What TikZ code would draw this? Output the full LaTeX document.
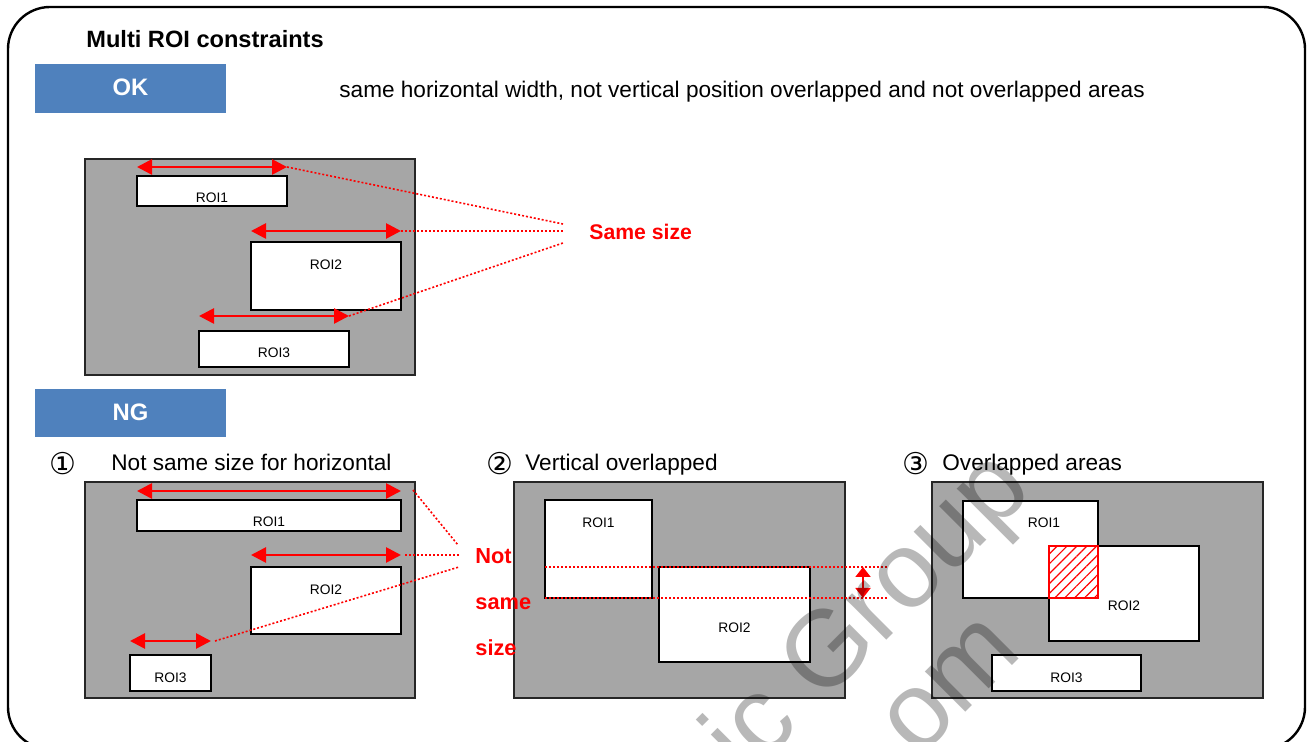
\documentclass[tikz,border=0pt]{standalone}
\usepackage{fontspec}
\setmainfont{Liberation Sans}
\newfontfamily\symfont{DejaVu Sans}
\usetikzlibrary{arrows.meta,patterns.meta}

\definecolor{panelgray}{HTML}{A6A6A6}
\definecolor{tagblue}{HTML}{4F81BD}

\begin{document}
\begin{tikzpicture}[x=0.5pt,y=-0.5pt,
  panel/.style={fill=panelgray,draw=black!85,line width=1pt},
  roibox/.style={fill=white,draw=black,line width=1pt},
  roilbl/.style={inner sep=0pt,font=\fontsize{6.9}{8}\selectfont},
  dimarr/.style={red,line width=1.35pt,
    {Triangle[length=7.5pt,width=7.5pt]}-{Triangle[length=7.5pt,width=7.5pt]}},
  smallarr/.style={red,line width=1pt,
    {Triangle[length=5pt,width=7.5pt]}-{Triangle[length=5pt,width=7.5pt]}},
  guide/.style={red,line width=0.8pt,dash pattern=on 1pt off 1pt},
  tag/.style={fill=tagblue,draw=none},
  tagtxt/.style={text=white,inner sep=0pt,anchor=base,
    font=\fontsize{11.9}{14}\selectfont\bfseries},
  body/.style={inner sep=0pt,anchor=base west,font=\fontsize{11.3}{13}\selectfont},
  note/.style={inner sep=0pt,anchor=base west,text=red,
    font=\fontsize{10.9}{13}\selectfont\bfseries},
  circnum/.style={inner sep=0pt,font=\symfont\fontsize{15}{17}\selectfont},
  stamp/.style={inner sep=0pt,anchor=base west,rotate=45,text=black,
    text opacity=0.28,font=\fontsize{54}{60}\selectfont},
]

\useasboundingbox (0,0) rectangle (1307,742);
\clip (0,0) rectangle (1307,742);

% outer frame
\draw[line width=1.2pt,rounded corners=21pt] (8,7) rectangle (1305,749);

% heading and OK tag
\node[body,font=\fontsize{11.8}{14}\selectfont\bfseries] (title) at (86,48) {Multi ROI constraints};
\fill[tag] (35,64) rectangle (226,113);
\node[tagtxt] (ok) at (130.5,96) {OK};
\node[body] (okdesc) at (339,98) {same horizontal width, not vertical position overlapped and not overlapped areas};

% ---- OK example ----
\draw[panel] (85,159) rectangle (415,375);
\draw[roibox] (137,176) rectangle (287,206);
\node[roilbl] (okr1) at (212,198) {ROI1};
\draw[roibox] (251,242) rectangle (401,310);
\node[roilbl] (okr2) at (326,265) {ROI2};
\draw[roibox] (199,331) rectangle (349,367);
\node[roilbl] (okr3) at (274,353) {ROI3};

\coordinate (oka1) at (137,167); \coordinate (okb1) at (287,167);
\coordinate (oka2) at (251,231); \coordinate (okb2) at (401,231);
\coordinate (oka3) at (199,316); \coordinate (okb3) at (349,316);
\draw[dimarr] (oka1) -- (okb1);
\draw[dimarr] (oka2) -- (okb2);
\draw[dimarr] (oka3) -- (okb3);

\coordinate (okm1) at (563,224);
\coordinate (okm2) at (563,231);
\coordinate (okm3) at (563,243);
\draw[guide] (okb1) -- (okm1);
\draw[guide] (okb2) -- (okm2);
\draw[guide] (okb3) -- (okm3);
\node[note,font=\fontsize{10.6}{13}\selectfont\bfseries] (same) at (589,240) {Same size};

% NG tag
\fill[tag] (35,389) rectangle (226,437);
\node[tagtxt] (ng) at (130.5,421) {NG};

% section headings
\node[circnum] (n1) at (62.5,463.5) {①};
\node[body] (h1) at (111,471) {Not same size for horizontal};
\node[circnum] (n2) at (499.5,463.5) {②};
\node[body] (h2) at (525,471) {Vertical overlapped};
\node[circnum] (n3) at (915.5,463.5) {③};
\node[body] (h3) at (942,471) {Overlapped areas};

% ---- NG 1: different widths ----
\draw[panel] (85,482) rectangle (415,698);
\draw[roibox] (137,500) rectangle (401,531);
\node[roilbl] (a1) at (269,522) {ROI1};
\draw[roibox] (251,567) rectangle (401,634);
\node[roilbl] (a2) at (326,590) {ROI2};
\draw[roibox] (130,655) rectangle (211,691);
\node[roilbl] (a3) at (170.5,678) {ROI3};

\draw[dimarr] (137,491) -- (401,491);
\draw[dimarr] (251,555) -- (401,555);
\draw[dimarr] (130,641) -- (211,641);

\coordinate (ga1) at (413,490); \coordinate (gb1) at (458,545);
\coordinate (ga2) at (405,555); \coordinate (gb2) at (460,555);
\coordinate (ga3) at (215,641); \coordinate (gb3) at (459,567);
\draw[guide] (ga1) -- (gb1);
\draw[guide] (ga2) -- (gb2);
\draw[guide] (ga3) -- (gb3);

% ---- NG 2: vertical overlap ----
\draw[panel] (514,482) rectangle (845,698);
\draw[roibox] (545,500) rectangle (652,598);
\node[roilbl] (b1) at (598.5,523) {ROI1};
\draw[roibox] (659,567) rectangle (810,662);
\node[roilbl] (b2) at (734.5,628) {ROI2};

\coordinate (ha1) at (545,567); \coordinate (hb1) at (888,567);
\coordinate (ha2) at (545,598); \coordinate (hb2) at (888,598);
\draw[guide] (ha1) -- (hb1);
\draw[guide] (ha2) -- (hb2);
\draw[smallarr] (863,567) -- (863,598);

% red caption of the NG 1 guides, lying over the next panel
\node[note] (not1) at (475,564) {Not};
\node[note] (not2) at (475,610) {same};
\node[note] (not3) at (475,656) {size};

% ---- NG 3: overlapping areas ----
\draw[panel] (932,482) rectangle (1263,698);
\draw[roibox] (963,501) rectangle (1098,598);
\node[roilbl] (c1) at (1044,523) {ROI1};
\draw[roibox] (1049,546) rectangle (1199,641);
\node[roilbl] (c2) at (1124,606) {ROI2};
\draw[roibox] (992,655) rectangle (1141,691);
\node[roilbl] (c3) at (1066.5,678) {ROI3};
\fill[white] (1049,546) rectangle (1098,598);
\fill[pattern={Lines[angle=45,distance=3.5pt,line width=0.6pt]},pattern color=red]
  (1049,546) rectangle (1098,598);
\draw[red,line width=1pt] (1049,546) rectangle (1098,598);

% translucent stamp across the lower right
\node[stamp] (wm1) at (746,781) {ic Group};
\node[stamp] (wm2) at (918,760) {om};

\end{tikzpicture}
\end{document}
